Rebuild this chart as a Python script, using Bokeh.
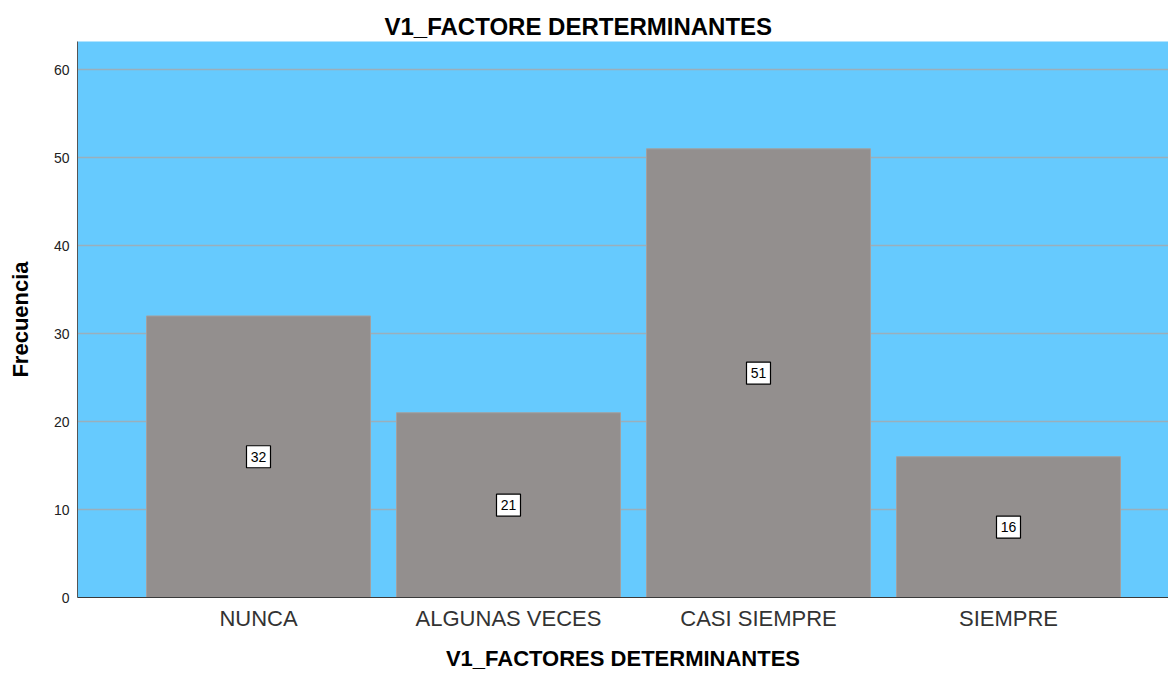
from bokeh.plotting import figure
from bokeh.models import ColumnDataSource, FixedTicker, Range1d, Title
from bokeh.core.properties import value
from bokeh.embed import file_html
from bokeh.resources import INLINE

categories = ["NUNCA", "ALGUNAS VECES", "CASI SIEMPRE", "SIEMPRE"]
frecuencia = [32, 21, 51, 16]
y_ticks = [0, 10, 20, 30, 40, 50, 60]

xs = list(range(len(categories)))
src = ColumnDataSource(dict(
    x=xs,
    top=frecuencia,
    mid=[v / 2 for v in frecuencia],
    lab=[str(v) for v in frecuencia],
))

p = figure(frame_width=1091, frame_height=556, output_backend="svg", toolbar_location=None,
           x_range=Range1d(-0.724, 3.64), y_range=Range1d(0, 63.2),
           min_border_left=77, min_border_right=0, min_border_top=41, min_border_bottom=0)
p.background_fill_color = "#66CAFE"
p.border_fill_color = "white"
p.outline_line_color = None

p.vbar(x="x", top="top", width=0.896, bottom=0, source=src,
       fill_color="#938F8E", line_color="#A3A09F", line_width=1)

# value boxes
p.rect(x="x", y="mid", width=24, height=22, width_units="screen", height_units="screen",
       source=src, fill_color="white", line_color="black", line_width=1.2)
p.text(x="x", y="mid", text="lab", source=src, text_align="center", text_baseline="middle",
       text_font=value("Liberation Sans"), text_font_size="14px", text_color="black")

# axes
p.xaxis.ticker = FixedTicker(ticks=xs)
p.xaxis.major_label_overrides = {i: c for i, c in enumerate(categories)}
p.xaxis.major_label_text_font = "Liberation Sans"
p.xaxis.major_label_text_font_size = "22px"
p.xaxis.major_label_text_color = "#333333"
p.xaxis.major_label_standoff = 8
p.xaxis.major_tick_out = 0
p.xaxis.major_tick_in = 0
p.xaxis.axis_label = "V1_FACTORES DETERMINANTES"
p.xaxis.axis_label_text_font = "Liberation Sans"
p.xaxis.axis_label_text_font_style = "bold"
p.xaxis.axis_label_text_font_size = "22px"
p.xaxis.axis_label_text_color = "black"
p.xaxis.axis_label_standoff = 12
p.xaxis.axis_line_color = "#3a3a3a"
p.xaxis.major_tick_line_color = None
p.xaxis.minor_tick_line_color = None

p.yaxis.ticker = FixedTicker(ticks=y_ticks)
p.yaxis.major_label_text_font = "Liberation Sans"
p.yaxis.major_label_text_font_size = "14px"
p.yaxis.major_label_text_color = "#222222"
p.yaxis.major_label_standoff = 8
p.yaxis.major_tick_out = 0
p.yaxis.major_tick_in = 0
p.yaxis.axis_label = "Frecuencia"
p.yaxis.axis_label_text_font = "Liberation Sans"
p.yaxis.axis_label_text_font_style = "bold"
p.yaxis.axis_label_text_font_size = "22px"
p.yaxis.axis_label_text_color = "black"
p.yaxis.axis_label_standoff = 18
p.yaxis.axis_line_color = "#555555"
p.yaxis.major_tick_line_color = None
p.yaxis.minor_tick_line_color = None

p.xgrid.grid_line_color = None
p.ygrid.grid_line_color = "#9AAFBB"
p.ygrid.grid_line_width = 1.5

p.title = Title(text="V1_FACTORE DERTERMINANTES", align="left", offset=307,
                text_font="Liberation Sans", text_font_style="bold",
                text_font_size="24px", text_color="black", standoff=4)

open("out.html", "w").write(file_html(p, INLINE))
